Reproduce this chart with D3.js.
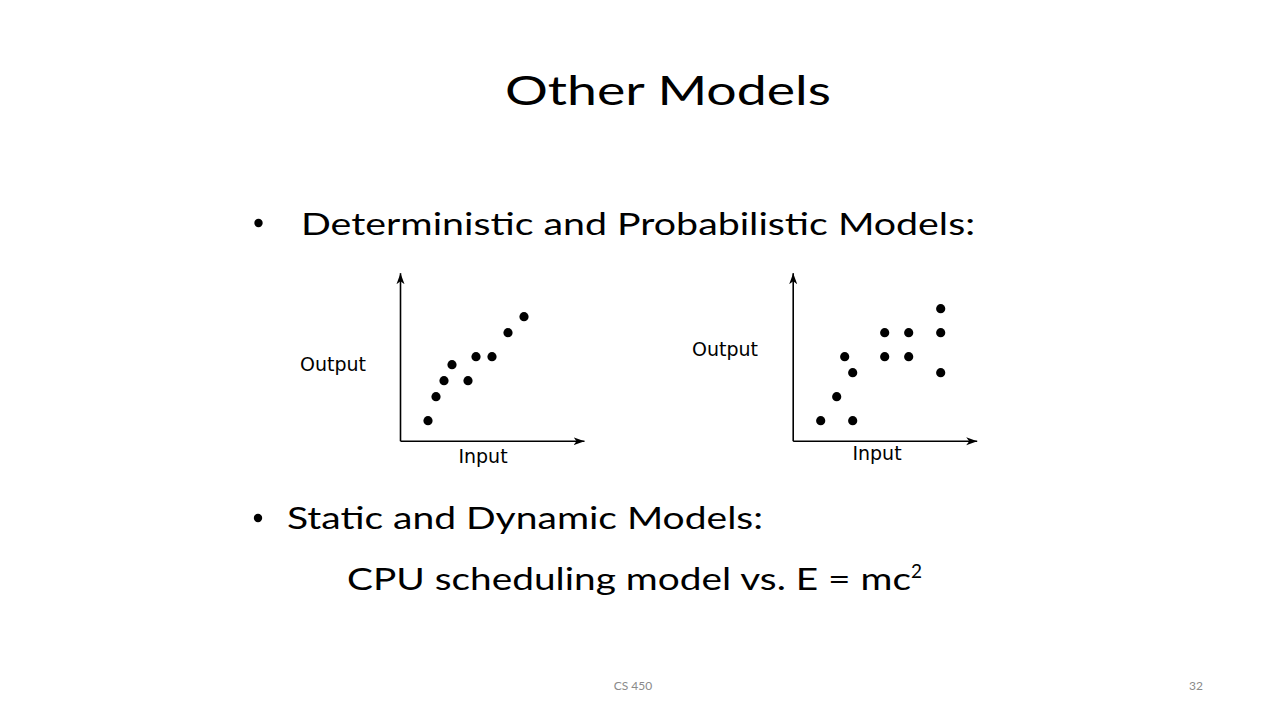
<!DOCTYPE html>
<html>
<head>
<meta charset="utf-8">
<script src="https://cdn.jsdelivr.net/npm/d3@7"></script>
<style>
  html, body { margin: 0; padding: 0; background: #fff; }
  svg { display: block; }
</style>
</head>
<body>
<script>
// ---- Data ----
const leftInput   = [3.5, 4.5, 5.5, 6.5, 8.5, 9.5, 11.5, 13.5, 15.5];
const leftOutput  = [2.5, 5.5, 7.5, 9.5, 7.5, 10.5, 10.5, 13.5, 15.5];
const rightInput  = [3.5, 7.5, 5.5, 6.5, 7.5, 11.5, 11.5, 14.5, 14.5, 18.5, 18.5, 18.5];
const rightOutput = [2.5, 2.5, 5.5, 10.5, 8.5, 13.5, 10.5, 13.5, 10.5, 16.5, 13.5, 8.5];
const axisLabels  = ["Input", "Output"];
const titleText   = "Other Models";
const bullet1     = "Deterministic and Probabilistic Models:";
const bullet2     = "Static and Dynamic Models:";
const lineText    = "CPU scheduling model vs. E = mc";
const footerLeft  = "CS 450";
const footerRight = "32";

const W = 1280, H = 720;
const svg = d3.select("body").append("svg").attr("width", W).attr("height", H);
svg.append("rect").attr("width", W).attr("height", H).attr("fill", "#fff");

const defs = svg.append("defs");
defs.append("marker")
  .attr("id", "arrow")
  .attr("viewBox", "0 0 12 10")
  .attr("refX", 11).attr("refY", 5)
  .attr("markerWidth", 12).attr("markerHeight", 10)
  .attr("markerUnits", "userSpaceOnUse")
  .attr("orient", "auto")
  .append("path")
  .attr("d", "M0,1 L11,5 L0,9 L3,5 Z")
  .attr("fill", "#000");

const mainFont = "Lato, 'Open Sans', sans-serif";

// Title
svg.append("text")
  .attr("x", 505).attr("y", 105)
  .attr("textLength", 326).attr("lengthAdjust", "spacingAndGlyphs")
  .style("font-family", mainFont).style("font-size", "41px").attr("fill", "#000")
  .text(titleText);

// Bullets
function bullet(x, y) {
  svg.append("circle").attr("cx", x).attr("cy", y).attr("r", 4.2).attr("fill", "#000");
}
bullet(258.5, 223);
svg.append("text")
  .attr("x", 301).attr("y", 235)
  .attr("textLength", 674).attr("lengthAdjust", "spacingAndGlyphs")
  .style("font-family", mainFont).style("font-size", "31px").attr("fill", "#000")
  .text(bullet1);

bullet(258, 518);
svg.append("text")
  .attr("x", 287).attr("y", 529)
  .attr("textLength", 476).attr("lengthAdjust", "spacingAndGlyphs")
  .style("font-family", mainFont).style("font-size", "31px").attr("fill", "#000")
  .text(bullet2);

const cpu = svg.append("text")
  .attr("x", 347).attr("y", 590)
  .style("font-family", mainFont).style("font-size", "31px").attr("fill", "#000");
cpu.append("tspan").attr("textLength", 564).attr("lengthAdjust", "spacingAndGlyphs").text(lineText);
cpu.append("tspan").attr("dy", -12).style("font-size", "19px").text("2");

// Footer
svg.append("text")
  .attr("x", 633).attr("y", 690).attr("text-anchor", "middle")
  .style("font-family", mainFont).style("font-size", "12px").attr("fill", "#8a8a8a")
  .text(footerLeft);
svg.append("text")
  .attr("x", 1203).attr("y", 690).attr("text-anchor", "end")
  .style("font-family", mainFont).style("font-size", "12px").attr("fill", "#8a8a8a")
  .text(footerRight);

// Scatter plots
function scatter(ox, oy, xs, ys, outLab, inLab) {
  const x = d3.scaleLinear().domain([0, 23]).range([ox, ox + 184]);
  const y = d3.scaleLinear().domain([0, 21]).range([oy, oy - 168]);
  const g = svg.append("g");

  const xAxis = g.append("g").attr("transform", `translate(0,${oy})`)
    .call(d3.axisBottom(x).tickValues([]).tickSizeOuter(0));
  const yAxis = g.append("g").attr("transform", `translate(${ox},0)`)
    .call(d3.axisLeft(y).tickValues([]).tickSizeOuter(0));
  [xAxis, yAxis].forEach(a => a.select(".domain")
    .attr("stroke", "#000").attr("stroke-width", 1.6)
    .attr("marker-end", "url(#arrow)"));

  g.selectAll("circle.pt").data(xs.map((v, i) => [v, ys[i]])).enter()
    .append("circle").attr("class", "pt")
    .attr("cx", d => x(d[0])).attr("cy", d => y(d[1]))
    .attr("r", 4.6).attr("fill", "#000");

  g.append("text").attr("x", outLab[0]).attr("y", outLab[1]).attr("text-anchor", "middle")
    .style("font-family", "'DejaVu Sans', sans-serif").style("font-size", "19px").attr("fill", "#000")
    .text(axisLabels[1]);
  g.append("text").attr("x", inLab[0]).attr("y", inLab[1]).attr("text-anchor", "middle")
    .style("font-family", "'DejaVu Sans', sans-serif").style("font-size", "19px").attr("fill", "#000")
    .text(axisLabels[0]);
}

scatter(400, 440.7, leftInput, leftOutput, [333, 371], [483, 463]);
scatter(792.7, 440.7, rightInput, rightOutput, [725, 356], [877, 460]);
</script>
</body>
</html>
